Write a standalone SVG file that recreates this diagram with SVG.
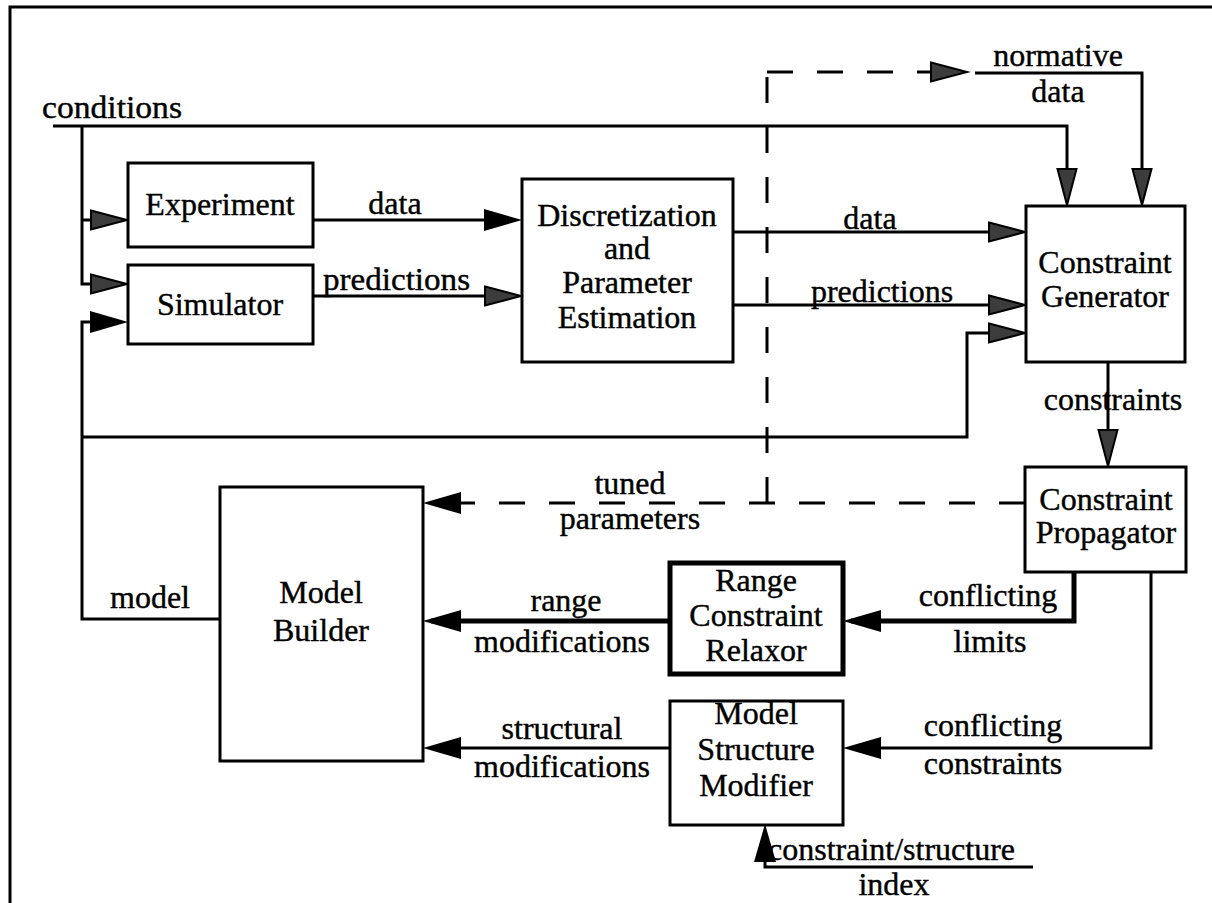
<svg xmlns="http://www.w3.org/2000/svg" width="1212" height="903" viewBox="0 0 1212 903">
  <style>
    .box { fill: #fff; stroke: #000; stroke-width: 3; }
    .box.heavy { stroke-width: 5; }
    .wire { fill: none; stroke: #000; stroke-width: 3; }
    .wire.heavy { stroke-width: 5; }
    .wire.dash { stroke-dasharray: 26 24; }
    .frame { fill: none; stroke: #000; stroke-width: 3; }
    text { font-family: "Liberation Serif", "Times New Roman", serif; font-size: 32px; fill: #000; stroke: #000; stroke-width: 0.4; }
    .c { text-anchor: middle; }
  </style>
  <defs>
    <!-- solid arrowhead; tip sits 8px beyond the path end -->
    <marker id="arr" markerUnits="userSpaceOnUse" markerWidth="42" markerHeight="24" refX="30" refY="11" orient="auto">
      <path d="M0,0 L38,11 L0,22 z" fill="#000"/>
    </marker>
    <!-- stippled (grey) arrowhead -->
    <marker id="arrg" markerUnits="userSpaceOnUse" markerWidth="42" markerHeight="24" refX="30" refY="11" orient="auto">
      <path d="M1,1.5 L37,11 L1,20.5 z" fill="#3c3c3c" stroke="#000" stroke-width="2"/>
    </marker>
  </defs>

  <rect width="1212" height="903" fill="#fff"/>
  <path class="frame" d="M10,903 V7 H1212"/>

  <g id="connectors">
    <!-- conditions feed -->
    <path class="wire" d="M53,126 H1067 V198" marker-end="url(#arrg)"/>
    <path class="wire" d="M82,126 V284 H120" marker-end="url(#arrg)"/>
    <path class="wire" d="M82,220 H120" marker-end="url(#arrg)"/>
    <!-- experiment / simulator outputs -->
    <path class="wire" d="M313,220 H514" marker-end="url(#arr)"/>
    <path class="wire" d="M313,296 H514" marker-end="url(#arrg)"/>
    <!-- discretization outputs -->
    <path class="wire" d="M733,232 H1018" marker-end="url(#arrg)"/>
    <path class="wire" d="M733,305 H1018" marker-end="url(#arrg)"/>
    <!-- normative data -->
    <path class="wire dash" d="M767,503 V72"/>
    <path class="wire dash" d="M767,72 H960" marker-end="url(#arrg)"/>
    <path class="wire" d="M975,73 H1142 V198" marker-end="url(#arrg)"/>
    <!-- model feedback -->
    <path class="wire" d="M220,619 H82 V322 H120" marker-end="url(#arr)"/>
    <path class="wire" d="M82,437 H967 V333 H1018" marker-end="url(#arrg)"/>
    <!-- constraints -->
    <path class="wire" d="M1108,362 V459" marker-end="url(#arrg)"/>
    <!-- tuned parameters -->
    <path class="wire dash" d="M1025,503 H431" marker-end="url(#arr)"/>
    <!-- conflicting limits / range modifications -->
    <path class="wire heavy" d="M1074,572 V621 H851" marker-end="url(#arr)"/>
    <path class="wire heavy" d="M668,621 H431" marker-end="url(#arr)"/>
    <!-- conflicting constraints / structural modifications -->
    <path class="wire" d="M1151,572 V748 H851" marker-end="url(#arr)"/>
    <path class="wire" d="M670,748 H431" marker-end="url(#arr)"/>
    <!-- constraint/structure index -->
    <path class="wire" d="M1033,867 H765 V832" marker-end="url(#arr)"/>
  </g>

  <g id="labels">
    <text x="42" y="118" textLength="140" lengthAdjust="spacingAndGlyphs">conditions</text>
    <text class="c" x="395" y="214">data</text>
    <text x="323" y="290" textLength="147" lengthAdjust="spacingAndGlyphs">predictions</text>
    <text class="c" x="870" y="229">data</text>
    <text class="c" x="882" y="302">predictions</text>
    <text class="c" x="1058" y="66">normative</text>
    <text class="c" x="1058" y="102">data</text>
    <text class="c" x="1113" y="410">constraints</text>
    <text class="c" x="630" y="494">tuned</text>
    <text class="c" x="630" y="529">parameters</text>
    <text class="c" x="150" y="608">model</text>
    <text class="c" x="566" y="611">range</text>
    <text class="c" x="562" y="652">modifications</text>
    <text class="c" x="988" y="606">conflicting</text>
    <text class="c" x="990" y="652">limits</text>
    <text class="c" x="562" y="739">structural</text>
    <text class="c" x="562" y="777">modifications</text>
    <text class="c" x="993" y="736">conflicting</text>
    <text class="c" x="993" y="774">constraints</text>
    <text x="768" y="860">constraint/structure</text>
    <text class="c" x="894" y="895">index</text>
  </g>

  <g id="experiment">
    <rect class="box" x="128" y="163" width="185" height="84"/>
    <text class="c" x="220" y="215">Experiment</text>
  </g>
  <g id="simulator">
    <rect class="box" x="128" y="265" width="185" height="79"/>
    <text class="c" x="220" y="315">Simulator</text>
  </g>
  <g id="discretization">
    <rect class="box" x="522" y="179" width="211" height="183"/>
    <text class="c" x="627" y="226">Discretization</text>
    <text class="c" x="627" y="259">and</text>
    <text class="c" x="627" y="293">Parameter</text>
    <text class="c" x="627" y="328">Estimation</text>
  </g>
  <g id="constraint-generator">
    <rect class="box" x="1026" y="206" width="159" height="156"/>
    <text class="c" x="1105" y="273">Constraint</text>
    <text class="c" x="1105" y="307">Generator</text>
  </g>
  <g id="constraint-propagator">
    <rect class="box" x="1025" y="467" width="161" height="105"/>
    <text class="c" x="1106" y="510">Constraint</text>
    <text class="c" x="1106" y="543">Propagator</text>
  </g>
  <g id="model-builder">
    <rect class="box" x="220" y="487" width="203" height="274"/>
    <text class="c" x="321" y="603">Model</text>
    <text class="c" x="321" y="641">Builder</text>
  </g>
  <g id="range-constraint-relaxor">
    <rect class="box heavy" x="670" y="563" width="173" height="111"/>
    <text class="c" x="756" y="591">Range</text>
    <text class="c" x="756" y="626">Constraint</text>
    <text class="c" x="756" y="661">Relaxor</text>
  </g>
  <g id="model-structure-modifier">
    <rect class="box" x="670" y="701" width="173" height="124"/>
    <text class="c" x="756" y="724">Model</text>
    <text class="c" x="756" y="760">Structure</text>
    <text class="c" x="756" y="796">Modifier</text>
  </g>
</svg>
